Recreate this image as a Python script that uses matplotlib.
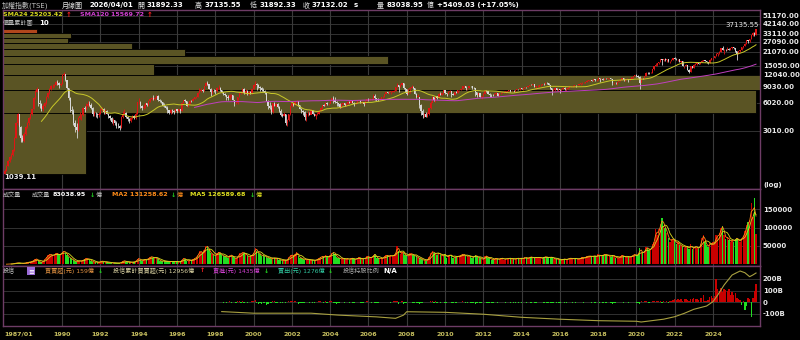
import numpy as np
import pandas as pd
import matplotlib
matplotlib.use('Agg')
import matplotlib.pyplot as plt
from matplotlib.patches import Rectangle

plt.rcParams['font.family'] = ['DejaVu Sans', 'Noto Sans CJK TC']

W, H = 800, 340

# ---- monthly TAIEX candles, 1987/01 .. 2026/04 ----
first_open = 1040.0
last_open = 31892.33
closes = [
    1120, 1260, 1420, 1560, 1650, 1850, 2500, 3600, 4500, 3300, 2500, 2340,      # 1987
    2800, 3300, 3600, 4100, 4500, 5100, 6800, 7900, 8400, 6000, 5800, 5119,      # 1988
    5600, 5900, 6900, 7600, 8400, 9000, 9100, 9200, 10100, 9700, 9200, 9624,     # 1989
    11900, 12300, 10500, 8600, 6700, 5000, 4900, 3600, 3300, 3100, 4100, 4350,   # 1990
    4400, 5300, 5100, 5600, 5800, 5700, 5300, 4600, 4600, 4500, 4400, 4600,      # 1991
    5000, 5200, 4800, 4900, 4600, 4300, 4100, 3700, 3900, 3600, 3400, 3377,      # 1992
    3200, 4200, 4600, 4700, 4200, 4000, 3800, 4100, 4300, 4100, 4600, 6070,      # 1993
    6100, 5500, 5300, 5400, 5900, 5700, 6200, 6600, 6800, 6600, 6800, 7124,      # 1994
    6400, 6300, 6100, 5600, 5500, 5300, 5000, 4700, 5000, 4900, 4800, 5174,      # 1995
    4900, 5100, 4900, 5900, 6400, 6300, 5600, 5800, 6300, 6200, 6600, 6933,      # 1996
    7000, 7600, 8000, 8200, 8100, 9000, 9800, 9600, 8500, 7800, 8200, 8187,      # 1997
    8100, 8600, 8700, 8200, 7800, 7500, 7200, 6900, 6800, 7200, 7200, 6418,      # 1998
    5900, 5900, 7000, 7600, 7700, 8500, 7600, 8100, 7600, 7800, 7700, 8448,      # 1999
    9400, 9500, 9300, 8800, 8700, 8200, 8000, 7600, 6200, 5500, 5300, 4739,      # 2000
    5900, 5600, 5800, 5400, 4900, 4400, 4300, 4500, 3600, 3900, 4500, 5551,      # 2001
    5900, 5700, 6200, 6200, 5700, 5200, 4900, 4800, 4200, 4500, 4600, 4452,      # 2002
    5000, 4600, 4300, 4500, 4600, 4900, 5300, 5700, 5600, 6000, 5800, 5890,      # 2003
    6300, 6700, 6500, 6100, 5900, 5800, 5400, 5800, 5900, 5700, 5800, 6140,      # 2004
    6000, 6300, 6000, 5800, 6000, 6200, 6300, 6000, 6100, 5800, 6200, 6548,      # 2005
    6500, 6600, 6600, 7100, 6700, 6600, 6500, 6600, 6900, 7000, 7500, 7823,      # 2006
    7700, 7900, 7900, 7900, 8100, 8900, 9300, 8900, 9400, 9700, 8600, 8506,      # 2007
    7500, 8400, 8600, 8900, 8600, 7500, 7000, 7000, 5700, 4900, 4460, 4591,      # 2008
    4250, 4560, 5210, 6000, 6890, 6430, 7080, 6830, 7510, 7340, 7580, 8188,      # 2009
    7640, 7440, 7920, 8000, 7370, 7330, 7760, 7620, 8240, 8290, 8370, 8973,      # 2010
    9145, 8600, 8683, 9007, 9000, 8653, 8644, 7741, 7225, 7588, 6904, 7072,      # 2011
    7517, 8121, 7933, 7501, 7302, 7296, 7270, 7397, 7715, 7166, 7580, 7700,      # 2012
    7850, 7895, 7918, 8093, 8254, 8062, 8107, 8022, 8173, 8450, 8406, 8612,      # 2013
    8462, 8639, 8849, 8791, 9075, 9393, 9315, 9436, 8966, 8974, 9187, 9307,      # 2014
    9361, 9622, 9586, 9820, 9701, 9323, 8665, 8175, 8181, 8554, 8320, 8338,      # 2015
    8145, 8411, 8745, 8377, 8535, 8667, 8984, 9069, 9166, 9290, 9240, 9254,      # 2016
    9448, 9750, 9812, 9872, 10041, 10395, 10427, 10585, 10384, 10794, 10560, 10643,  # 2017
    11104, 10815, 10919, 10658, 10875, 10837, 11057, 11064, 10919, 9802, 9888, 9727,  # 2018
    9932, 10389, 10641, 11021, 10498, 10731, 10824, 10618, 10830, 11358, 11489, 11997,  # 2019
    11495, 11292, 9708, 10992, 10943, 11621, 12665, 12592, 12516, 12546, 13723, 14732,  # 2020
    15138, 15953, 16431, 17567, 17068, 17755, 17247, 17490, 16934, 16987, 17427, 18218,  # 2021
    17674, 17652, 17693, 16592, 16808, 14826, 15000, 15095, 13424, 12949, 14880, 14137,  # 2022
    15265, 15504, 15868, 15579, 16579, 16916, 17145, 16634, 16353, 16001, 17433, 17930,  # 2023
    18000, 18966, 20066, 20397, 21174, 23032, 22199, 22268, 22225, 22820, 22262, 23035,  # 2024
    23526, 23053, 21298, 20235, 21347, 22040, 23500, 24233, 25800, 28200, 27600, 28964,  # 2025
    32000, 33700, 31723, 37132.02,                                                     # 2026
]
highs = [
    1180, 1290, 1450, 1600, 1720, 1900, 2550, 3700, 4673, 4600, 3400, 2700,
    2900, 3400, 3700, 4200, 4700, 5200, 7000, 8200, 8789, 8400, 6500, 6000,
    5800, 6100, 7100, 7800, 8700, 9300, 9500, 9600, 10400, 10600, 9900, 9800,
    12100, 12682, 12300, 10600, 8700, 6900, 5600, 5100, 3900, 3600, 4200, 4800,
    4600, 5400, 5500, 5900, 6300, 6300, 6000, 5400, 4900, 4800, 4700, 4750,
    5300, 5400, 5300, 5100, 5000, 4700, 4400, 4200, 4100, 3900, 3800, 3600,
    3500, 4300, 4900, 5100, 4800, 4300, 4100, 4200, 4400, 4400, 4800, 6100,
    6700, 6200, 5700, 5800, 6000, 6000, 6300, 6700, 7000, 7200, 7000, 7200,
    7200, 6600, 6500, 6100, 5900, 5600, 5500, 5000, 5200, 5200, 5000, 5200,
    5200, 5200, 5200, 6100, 6500, 6600, 6300, 5900, 6400, 6500, 6800, 7000,
    7100, 7800, 8600, 8600, 8500, 9100, 10100, 10256, 9600, 8700, 8500, 8400,
    8300, 8800, 9300, 8800, 8300, 7900, 7700, 7300, 7200, 7400, 7500, 7200,
    6500, 6300, 7000, 7800, 7800, 8600, 8700, 8400, 8200, 8000, 8000, 8500,
    9600, 10393, 9800, 9600, 9000, 8900, 8700, 8300, 7700, 6400, 6100, 5700,
    6000, 6100, 6000, 5900, 5500, 5100, 4700, 4800, 4500, 4000, 4600, 5600,
    6000, 5900, 6300, 6484, 6200, 5700, 5300, 5000, 4900, 4700, 4900, 4800,
    5200, 5000, 4700, 4600, 4800, 5000, 5400, 5700, 5800, 6100, 6100, 5900,
    6400, 6800, 7135, 6900, 6200, 6000, 5900, 5900, 6000, 5900, 5900, 6200,
    6200, 6400, 6300, 6100, 6100, 6300, 6500, 6400, 6200, 6100, 6300, 6600,
    6700, 6700, 6700, 7400, 7500, 6800, 6700, 6700, 6900, 7100, 7500, 7850,
    7900, 8000, 8000, 8000, 8200, 8900, 9800, 9300, 9500, 9860, 9700, 8700,
    8500, 8500, 8800, 9300, 9000, 8700, 7600, 7400, 7000, 5800, 5100, 4700,
    4800, 4800, 5300, 6200, 7100, 7000, 7100, 7100, 7600, 7800, 7600, 8200,
    8300, 7600, 7950, 8200, 8000, 7600, 7800, 8100, 8250, 8300, 8500, 9000,
    9200, 9100, 8700, 9050, 9100, 9000, 8900, 8600, 7900, 7700, 7600, 7100,
    7600, 8150, 8170, 8000, 7600, 7400, 7400, 7600, 7800, 7700, 7600, 7750,
    7900, 7950, 7950, 8100, 8300, 8300, 8200, 8200, 8250, 8470, 8450, 8620,
    8650, 8650, 8900, 8900, 9100, 9400, 9570, 9450, 9400, 9000, 9200, 9350,
    9500, 9650, 9700, 10000, 9900, 9700, 9300, 8700, 8400, 8800, 8700, 8400,
    8400, 8450, 8800, 8800, 8600, 8800, 9000, 9100, 9300, 9350, 9400, 9300,
    9500, 9800, 9970, 9900, 10100, 10500, 10550, 10600, 10600, 10800, 10850, 10700,
    11270, 11100, 11050, 10950, 11000, 11150, 11100, 11100, 11050, 10900, 10000, 10100,
    10000, 10400, 10650, 11100, 11000, 10900, 11000, 10800, 11000, 11400, 11600, 12000,
    12200, 11800, 11600, 11000, 11100, 11700, 12700, 12900, 12900, 12900, 13800, 14750,
    16000, 16100, 16500, 17600, 17700, 17900, 18000, 17600, 17700, 17000, 17800, 18300,
    18619, 18200, 17900, 17700, 16900, 16900, 15000, 15500, 15400, 13700, 15000, 14900,
    15500, 15900, 15900, 15900, 16600, 17300, 17400, 17000, 16800, 16600, 17500, 17950,
    18200, 19000, 20300, 20400, 21300, 23300, 24416, 22500, 22600, 23600, 23300, 23200,
    23600, 23800, 23300, 21700, 21600, 22300, 23700, 24600, 26000, 28500, 28400, 29000,
    32200, 34200, 34500, 37135.55,
]
lows = [
    1039.11, 1110, 1250, 1400, 1500, 1620, 1830, 2500, 3500, 2700, 2300, 2298,
    2300, 2700, 3200, 3500, 4000, 4400, 5100, 6600, 7800, 5600, 5300, 4900,
    4873, 5400, 5800, 6800, 7400, 8300, 8700, 8800, 9200, 9300, 8600, 9000,
    9500, 11500, 10200, 8400, 6500, 4800, 4500, 3500, 2900, 2485, 3000, 4000,
    3900, 4300, 4800, 5000, 5400, 5500, 5200, 4300, 4300, 4200, 4100, 4200,
    4500, 4900, 4600, 4600, 4500, 4100, 3900, 3600, 3500, 3500, 3200, 3200,
    3098, 3200, 4100, 4500, 4100, 3800, 3600, 3700, 4000, 4000, 4000, 4600,
    5800, 5300, 5000, 5100, 5300, 5500, 5600, 6100, 6500, 6500, 6500, 6700,
    6300, 6100, 5900, 5500, 5400, 5100, 4700, 4500, 4600, 4700, 4500, 4750,
    4700, 4800, 4700, 4900, 5900, 6100, 5500, 5400, 5800, 6100, 6200, 6600,
    6700, 6900, 7600, 7900, 7800, 8000, 9000, 9400, 8400, 7100, 7500, 7900,
    7400, 7900, 8500, 8100, 7700, 7300, 7100, 6500, 6500, 6400, 6900, 6400,
    5500, 5800, 5800, 6900, 7400, 7600, 7500, 7500, 7200, 7300, 7500, 7500,
    8400, 9100, 8300, 8700, 8000, 8000, 7800, 7400, 6200, 5100, 5200, 4600,
    4700, 5500, 5400, 5300, 4800, 4300, 4200, 4300, 3450, 3411, 3800, 4400,
    5400, 5600, 5700, 6000, 5600, 5100, 4700, 4400, 3900, 3850, 4300, 4400,
    4500, 4500, 4300, 4044, 4400, 4600, 4900, 5200, 5500, 5600, 5700, 5700,
    5900, 6200, 6000, 6000, 5500, 5600, 5300, 5300, 5700, 5600, 5600, 5700,
    5900, 6000, 6000, 5600, 5800, 5900, 6200, 5900, 5900, 5600, 5800, 6200,
    6300, 6400, 6400, 6600, 6400, 6200, 6200, 6400, 6600, 6800, 6900, 7400,
    7600, 7500, 7400, 7800, 7800, 8000, 8800, 7900, 8800, 9200, 8400, 7900,
    7300, 7500, 7700, 8600, 8400, 7500, 6700, 6900, 5300, 4400, 4100, 4200,
    4200, 4200, 4400, 5200, 6100, 6300, 6100, 6600, 6700, 7200, 7300, 7500,
    7500, 7100, 7400, 7800, 7000, 7200, 7300, 7600, 7600, 8100, 8200, 8400,
    8900, 8300, 8300, 8600, 8800, 8500, 8400, 7100, 7000, 7200, 6900, 6600,
    7000, 7500, 7800, 7400, 6900, 7000, 7100, 7300, 7300, 7100, 7100, 7500,
    7600, 7700, 7700, 7800, 8000, 7800, 8000, 7800, 7900, 8200, 8200, 8300,
    8400, 8300, 8600, 8700, 8800, 9000, 9200, 9200, 8950, 8500, 8900, 8800,
    9100, 9300, 9400, 9500, 9500, 9300, 8500, 7200, 8000, 8100, 8300, 8000,
    7700, 8000, 8400, 8300, 8100, 8400, 8600, 8900, 8900, 9100, 8800, 9000,
    9200, 9400, 9650, 9700, 9800, 10000, 10300, 10300, 10300, 10400, 10300, 10400,
    10600, 10100, 10700, 10500, 10500, 10700, 10700, 10900, 10800, 9400, 9500, 9500,
    9300, 9900, 10300, 10600, 10200, 10400, 10700, 10100, 10500, 10800, 11200, 11500,
    11400, 11100, 8523, 9900, 10700, 10900, 11600, 12300, 12300, 12500, 12600, 13600,
    14700, 15000, 15700, 16400, 15200, 16900, 16800, 16500, 16500, 16200, 16800, 17400,
    17500, 17200, 16700, 16400, 15700, 14700, 14000, 14900, 13400, 12629, 12900, 14000,
    14200, 15200, 15200, 15500, 15500, 16600, 16700, 16300, 16200, 15800, 16000, 17200,
    17300, 18000, 18900, 19200, 20200, 21200, 21900, 19800, 21400, 22200, 22000, 22200,
    22700, 22800, 21000, 17306, 20200, 21000, 22000, 23300, 24100, 25800, 26200, 27000,
    28900, 31300, 31000, 31892.33,
]
# monthly turnover, 億
volumes = [
    300, 400, 600, 900, 1100, 1500, 2500, 3500, 4500, 3500, 2500, 2000,
    3000, 4000, 5000, 6500, 7000, 8000, 11000, 14000, 15000, 8000, 6000, 5000,
    9000, 14000, 20000, 24000, 28000, 26000, 24000, 26000, 30000, 29000, 24000, 28000,
    34000, 36000, 32000, 25000, 20000, 16000, 14000, 11000, 8000, 7000, 9000, 10000,
    9000, 12000, 14000, 16000, 15000, 13000, 10000, 7000, 6000, 6000, 5000, 5500,
    8000, 9000, 7000, 6000, 5000, 4500, 4000, 3500, 4000, 3500, 3000, 3500,
    3000, 6000, 9000, 10000, 7000, 5500, 5000, 5500, 6000, 6500, 9000, 14000,
    16000, 12000, 10000, 11000, 14000, 13000, 16000, 20000, 21000, 18000, 17000, 18000,
    14000, 10000, 9000, 8000, 9000, 8000, 8000, 7000, 8000, 7500, 7000, 8000,
    7000, 6000, 7000, 13000, 17000, 14000, 10000, 9000, 11000, 11000, 14000, 16000,
    20000, 26000, 36000, 34000, 30000, 40000, 50000, 48000, 38000, 30000, 28000, 25000,
    22000, 30000, 34000, 30000, 25000, 22000, 22000, 20000, 18000, 24000, 26000, 20000,
    16000, 14000, 22000, 30000, 28000, 34000, 30000, 28000, 22000, 20000, 22000, 26000,
    32000, 45000, 36000, 30000, 28000, 22000, 24000, 22000, 20000, 18000, 16000, 14000,
    18000, 17000, 17000, 16000, 13000, 11000, 10000, 12000, 11000, 12000, 20000, 24000,
    26000, 22000, 28000, 34000, 22000, 18000, 16000, 14000, 13000, 12000, 14000, 11000,
    12000, 11000, 10000, 12000, 14000, 17000, 20000, 22000, 20000, 24000, 20000, 18000,
    26000, 30000, 34000, 28000, 20000, 17000, 16000, 14000, 16000, 15000, 14000, 16000,
    12000, 17000, 16000, 14000, 13000, 17000, 19000, 16000, 14000, 15000, 17000, 22000,
    20000, 18000, 18000, 26000, 28000, 18000, 16000, 15000, 16000, 18000, 22000, 24000,
    24000, 22000, 24000, 22000, 26000, 32000, 50000, 36000, 28000, 34000, 30000, 24000,
    24000, 22000, 30000, 28000, 26000, 22000, 22000, 16000, 17000, 14000, 11000, 12000,
    9000, 14000, 20000, 30000, 36000, 30000, 30000, 26000, 32000, 26000, 22000, 24000,
    28000, 17000, 24000, 26000, 24000, 18000, 20000, 20000, 23000, 22000, 26000, 28000,
    26000, 22000, 23000, 21000, 22000, 18000, 20000, 26000, 20000, 18000, 18000, 14000,
    13000, 22000, 23000, 17000, 17000, 13000, 12000, 15000, 17000, 14000, 14000, 16000,
    17000, 13000, 15000, 15000, 17000, 16000, 15000, 14000, 14000, 17000, 16000, 16000,
    17000, 15000, 20000, 17000, 16000, 19000, 21000, 17000, 18000, 19000, 17000, 20000,
    17000, 16000, 20000, 21000, 19000, 18000, 18000, 20000, 15000, 15000, 14000, 14000,
    12000, 11000, 15000, 14000, 13000, 15000, 17000, 16000, 15000, 15000, 16000, 14000,
    15000, 17000, 20000, 17000, 20000, 22000, 22000, 23000, 21000, 22000, 23000, 20000,
    28000, 22000, 25000, 24000, 28000, 26000, 24000, 22000, 21000, 26000, 22000, 18000,
    18000, 17000, 23000, 24000, 22000, 19000, 21000, 20000, 20000, 23000, 26000, 27000,
    24000, 26000, 44000, 34000, 30000, 36000, 46000, 44000, 40000, 40000, 55000, 62000,
    95000, 80000, 95000, 110000, 125000, 105000, 100000, 85000, 72000, 62000, 70000, 66000,
    66000, 55000, 60000, 52000, 50000, 50000, 45000, 50000, 47000, 42000, 55000, 42000,
    45000, 50000, 45000, 42000, 55000, 72000, 80000, 60000, 52000, 48000, 58000, 55000,
    60000, 58000, 80000, 75000, 85000, 100000, 105000, 80000, 70000, 75000, 66000, 62000,
    66000, 62000, 70000, 72000, 65000, 62000, 72000, 78000, 90000, 107000, 115000, 120000,
    166000, 130000, 179478, 83038.95,
]

# price/volume profile (價量累計圖, 10 bins, low to high), bar length as % of the longest
profile_pct = [11.0, 99.5, 100.0, 20.0, 50.8, 24.1, 17.1, 8.6, 9.0, 4.5]

# 投信 monthly net buy (億), from 1998/05
inst_start = '1998-05-01'
inst_net = [
    5, -3, 4, -6, 2, 8, -4, 3,                                  # 1998
    6, -5, 10, 8, -4, 12, -8, 6, -10, 4, 5, 8,                  # 1999
    15, 20, -10, -12, -8, -15, -5, -8, -20, -12, 4, -6,         # 2000
    10, 8, -5, -6, 2, -4, -6, 3, -10, 6, 12, 14,                # 2001
    8, 4, 10, 6, -12, -10, -8, -5, -6, 4, 6, -4,                # 2002
    4, -3, -5, 3, 6, 8, 10, 6, -4, 8, -5, 4,                    # 2003
    10, 8, -8, -10, -12, -6, -4, 3, 5, -6, 4, 6,                # 2004
    -4, 5, -6, -8, 3, 4, 6, -5, -4, -8, 5, 8,                   # 2005
    4, 2, -3, 6, -10, -8, -4, 3, 5, 4, 6, 5,                    # 2006
    3, 6, -4, 4, 8, 12, 10, -15, 6, 8, -12, -8,                 # 2007
    -10, 6, 4, 5, -6, -10, -8, -4, -12, -10, -5, 3,             # 2008
    2, 3, 5, 10, 12, -6, 8, -5, 6, -4, 3, 6,                    # 2009
    -5, -8, 4, 3, -10, -3, 5, -2, 6, 3, 4, 8,                   # 2010
    6, -8, -3, 5, -2, -6, -4, -12, -8, 3, -6, -3,               # 2011
    4, 6, -3, -6, -8, -3, -2, 3, 4, -6, 2, 3,                   # 2012
    4, 2, -2, 3, 5, -4, 2, -3, -4, 3, -2, 2,                    # 2013
    -3, 2, 4, -2, 3, 5, -3, 2, -6, -4, 3, 2,                    # 2014
    3, 4, -2, 5, -3, -6, -8, -10, -4, 3, -2, -3,                # 2015
    -4, 3, 5, -3, -2, 4, 6, 3, -2, 2, -4, 2,                    # 2016
    4, 5, 3, -2, 4, 6, 3, 5, -3, 4, -2, 3,                      # 2017
    6, -8, 4, -3, 5, -4, 3, 2, -5, -15, -3, -4,                 # 2018
    3, 5, 6, 4, -8, 3, 5, -6, 4, 6, 5, 6,                       # 2019
    -4, -6, -12, 8, 4, 10, 15, 6, -3, 5, 12, 15,                # 2020
    5, 10, 8, 12, -6, 15, 4, 10, -3, 12, 15, 18,                # 2021
    25, 20, 30, 20, 25, 15, 28, 30, 20, 15, 30, 25,             # 2022
    35, 30, 25, 20, 35, 40, 60, 15, 10, 20, 45, 50,             # 2023
    40, 55, 200, 110, 100, 120, 90, 115, 105, 100, 110, 60,     # 2024
    90, 60, 80, 40, 30, 20, -20, 15, -70, -30, 40, 30,          # 2025
    -130, 40, 100, 159,                                          # 2026
]
# 投信累計買賣超 (億), points
cum_dates = ['1998-05', '2000-01', '2003-01', '2004-06', '2006-06', '2007-06', '2007-11',
             '2008-01', '2010-01', '2012-01', '2014-01', '2016-01', '2018-01', '2020-01',
             '2020-04', '2021-06', '2022-01', '2022-07', '2023-01', '2023-09', '2024-01',
             '2024-04', '2024-08', '2025-01', '2025-06', '2025-09', '2025-12', '2026-02',
             '2026-04']
cum_vals = [-200, -750, -750, -1400, -2000, -2500, -1400, -250, -450, -1100, -2150, -2800,
            -3300, -3500, -3750, -2800, -1950, -800, 580, 1700, 3170, 5450, 8870, 12280,
            13640, 13060, 11700, 12280, 12956]

price_ticks = [3010, 6020, 9030, 12040, 15050, 21070, 27090, 33110, 42140, 51170]
vol_ticks = [50000, 100000, 150000]
inst_ticks = [-100, 0, 100, 200]
inst_labels = ['-100B', '0', '100B', '200B']

BG = 'black'
BORDER = '#6e3c66'
GRID = '#3a3a3a'
TXT = '#e8e8e8'
GREY = '#c0c0c0'
UP, DOWN = '#e01414', '#d8d8d8'
VUP, VDOWN = '#c80000', '#22dd22'
NUM = 5.0     # bold digits
CJK = 4.4     # small CJK captions

n = len(closes)
months = pd.date_range('1987-01-01', periods=n, freq='MS')
idx = np.arange(n)
c = np.array(closes, dtype=float)
hi = np.array(highs, dtype=float)
lo = np.array(lows, dtype=float)
o = np.r_[first_open, c[:-1]]
o[-1] = last_open
up = c >= o

x0, x1 = -1.13, 473.5
year_idx = [i for i, m in enumerate(months)
            if m.month == 1 and m.year % 2 == 0 and 1990 <= m.year <= 2024]

fig = plt.figure(figsize=(W / 100, H / 100), dpi=100, facecolor=BG)


def right_ticks(a):
    a.yaxis.tick_right()
    a.tick_params(axis='y', length=0, pad=2, labelsize=NUM, labelcolor=TXT)


def px_axes(left, top, right, bottom):
    a = fig.add_axes([left / W, 1 - bottom / H, (right - left) / W, (bottom - top) / H])
    a.set_facecolor(BG)
    for s in a.spines.values():
        s.set_color(BORDER)
        s.set_linewidth(1.0)
    a.set_xlim(x0, x1)
    right_ticks(a)
    a.tick_params(axis='x', length=0, labelbottom=False)
    for xi in year_idx:
        a.axvline(xi, color=GRID, lw=0.8, zorder=0.5)
    return a


def label(x, y, s, color, size=CJK, weight='normal', ha='left'):
    fig.text(x / W, 1 - y / H, s, color=color, fontsize=size, fontweight=weight,
             ha=ha, va='center')


# ---- main price panel ----
ax = px_axes(3, 10, 760, 189)
ax.set_yscale('log')
ax.set_ylim(713, 59340)
ax.set_yticks(price_ticks)
ax.set_yticklabels(['%.2f' % t for t in price_ticks], fontweight='bold')
ax.yaxis.set_minor_locator(matplotlib.ticker.NullLocator())
for t in price_ticks:
    ax.axhline(t, color=GRID, lw=0.6, zorder=0.5)

edges = np.linspace(lo.min(), hi.max(), len(profile_pct) + 1)
pcols = ['#5a5424'] * (len(profile_pct) - 1) + ['#b0461c']
ax.barh(edges[:-1], np.array(profile_pct) / 100 * (x1 - x0), height=np.diff(edges),
        left=x0, align='edge', color=pcols, edgecolor=BG, linewidth=0.6, zorder=1)

ccol = np.where(up, UP, DOWN)
ax.vlines(idx, lo, hi, colors=ccol, lw=0.6, zorder=3)
ax.bar(idx, np.maximum(np.abs(c - o), c * 0.004), bottom=np.minimum(o, c), width=0.75,
       color=ccol, linewidth=0, zorder=3)
sma24 = pd.Series(c).rolling(24).mean()
sma120 = pd.Series(c).rolling(120).mean()
ax.plot(idx, sma24, color='#c8c828', lw=0.7, zorder=4)
ax.plot(idx, sma120, color='#c040c0', lw=0.7, zorder=4)
ax.text(x1 - 1, hi.max() * 1.104, '%.2f' % hi.max(), color=TXT, fontsize=NUM,
        ha='right', va='center', zorder=5)
ax.text(x0 + 0.5, lo.min() * 0.92, '%.2f' % lo.min(), color=TXT, fontsize=NUM,
        fontweight='bold', ha='left', va='center', zorder=5)
label(763, 185, '(log)', TXT, NUM, 'bold')

# ---- volume panel ----
av = px_axes(3, 189, 760, 266)
v = np.array(volumes, dtype=float)
av.set_ylim(-4630, 205200)
av.set_yticks(vol_ticks)
av.set_yticklabels([str(t) for t in vol_ticks], fontweight='bold')
for t in vol_ticks:
    av.axhline(t, color=GRID, lw=0.6, zorder=0.5)
av.bar(idx, v, width=0.85, color=np.where(up, VUP, VDOWN), linewidth=0, zorder=2)
av.plot(idx, pd.Series(v).rolling(2).mean(), color='#ff8c1a', lw=0.6, zorder=3)
av.plot(idx, pd.Series(v).rolling(5).mean(), color='#d8d820', lw=0.6, zorder=3)

# ---- 投信 panel ----
ai = px_axes(3, 266, 760, 326)
ac = ai.twinx()
ac.set_xlim(x0, x1)
ac.set_ylim(-5115, 15345)
ac.axis('off')
right_ticks(ai)
ai.set_ylim(-203, 311)
ai.set_yticks(inst_ticks)
ai.set_yticklabels(inst_labels, fontweight='bold')
for t in inst_ticks:
    ai.axhline(t, color=GRID, lw=0.6, zorder=0.5)
i0 = months.get_loc(pd.Timestamp(inst_start))
ii = np.arange(i0, i0 + len(inst_net))
net = np.array(inst_net, dtype=float)
ai.bar(ii, net, width=0.85, color=np.where(net >= 0, VUP, VDOWN), linewidth=0, zorder=2)
cx = [months.get_loc(pd.Timestamp(d + '-01')) for d in cum_dates]
ac.plot(cx, cum_vals, color='#a8a040', lw=0.8)

xt = [0] + year_idx
ai.set_xticks(xt)
ai.set_xticklabels(['1987/01'] + [str(months[i].year) for i in year_idx])
ai.tick_params(axis='x', labelbottom=True, labelsize=4.6, labelcolor='#c8c060', pad=4)
for t in ai.get_xticklabels():
    t.set_fontweight('bold')
ai.get_xticklabels()[0].set_ha('left')

# ---- header texts ----
label(2, 5, '加權指數(TSE)', GREY, 5)
label(62, 5, '月線圖', TXT, 5)
label(90, 5, '2026/04/01', 'white', NUM, 'bold')
label(137, 5, '開', TXT, 5)
label(147, 5, '31892.33', 'white', NUM, 'bold')
label(195, 5, '高', TXT, 5)
label(205, 5, '37135.55', 'white', NUM, 'bold')
label(250, 5, '低', TXT, 5)
label(260, 5, '31892.33', 'white', NUM, 'bold')
label(303, 5, '收', TXT, 5)
label(312, 5, '37132.02', 'white', NUM, 'bold')
label(354, 5, 's', 'white', NUM, 'bold')
label(377, 5, '量', TXT, 5)
label(387, 5, '83038.95', 'white', NUM, 'bold')
label(427, 5, '億', TXT, 5)
label(437, 5, '+5409.03 (+17.05%)', 'white', NUM, 'bold')

label(3, 15, 'SMA24 25203.42', '#d8d820', 4.5, 'bold')
label(66, 15, '↑', '#ff2020', 5, 'bold')
label(80, 15, 'SMA120 15569.72', '#d040d0', 4.5, 'bold')
label(147, 15, '↑', '#ff2020', 5, 'bold')
label(3, 23, '價量累計圖', GREY, CJK)
label(39, 23, '10', 'white', NUM, 'bold')

label(3, 195, '成交量', GREY)
label(32, 195, '成交量', GREY)
label(53, 195, '83038.95', 'white', 4.6, 'bold')
label(90, 195, '↓', '#20d020', 4.6, 'bold')
label(96, 195, '億', GREY)
label(112, 195, 'MA2 131258.62', '#ff8c1a', 4.6, 'bold')
label(171, 195, '↓', '#20d020', 4.6, 'bold')
label(177, 195, '億', '#ff8c1a')
label(190, 195, 'MA5 126589.68', '#e0e020', 4.6, 'bold')
label(250, 195, '↓', '#20d020', 4.6, 'bold')
label(256, 195, '億', '#e0e020')

label(3, 271, '投信', GREY)
fig.patches.append(Rectangle((27 / W, 1 - 275 / H), 8 / W, 8 / H, transform=fig.transFigure,
                             facecolor='#9a6ad8', edgecolor='none'))
label(31, 271, '≡', 'white', 5, 'bold', ha='center')
label(45, 271, '買賣超(元) 159億', '#e09040')
label(98, 271, '↓', '#20d020', 4.6, 'bold')
label(113, 271, '投信累計買賣超(元) 12956億', '#d8d0a0')
label(200, 271, '↑', '#ff2020', 4.6, 'bold')
label(213, 271, '買進(元) 1435億', '#d040d0')
label(264, 271, '↓', '#20d020', 4.6, 'bold')
label(278, 271, '賣出(元) 1276億', '#30c8a0')
label(328, 271, '↓', '#20d020', 4.6, 'bold')
label(343, 271, '投信持股比例', '#a8a8a8')
label(383, 271, 'N/A', 'white', NUM, 'bold')

fig.savefig('out.png', dpi=100, facecolor=BG)
